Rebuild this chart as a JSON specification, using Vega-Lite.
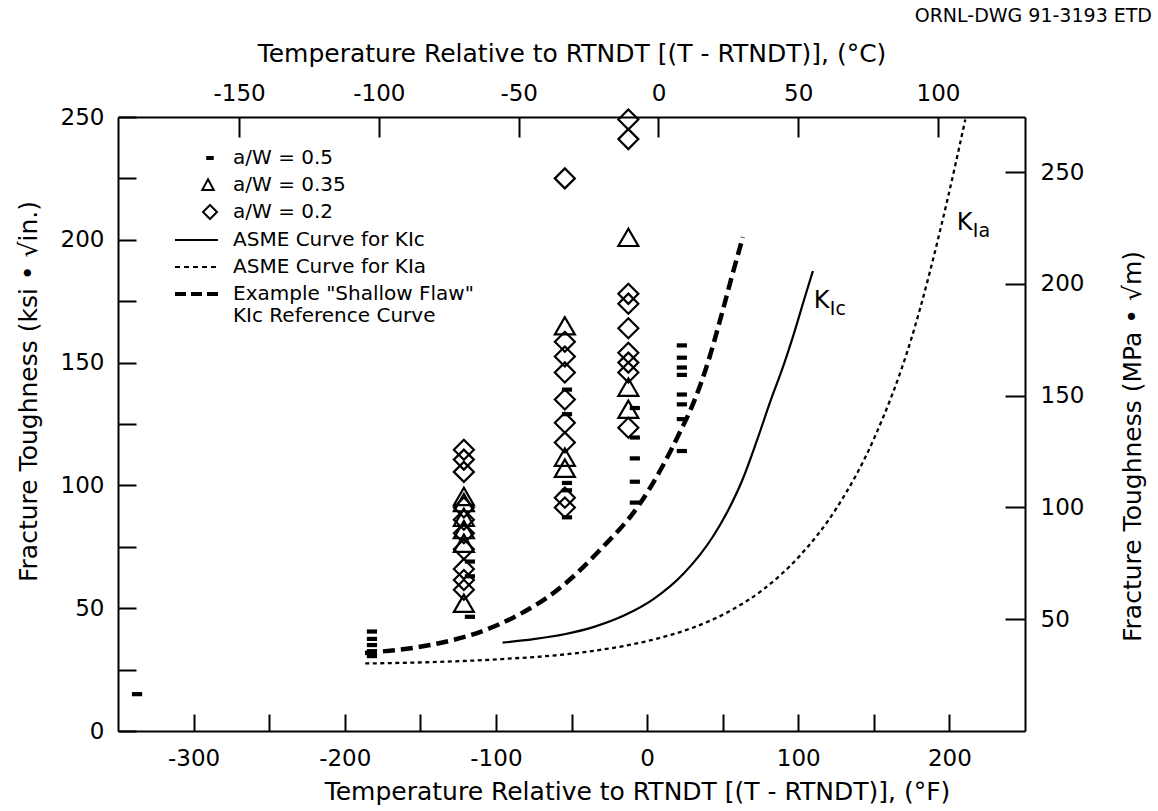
{
  "$schema": "https://vega.github.io/schema/vega-lite/v6.json",
  "width": 907,
  "height": 614,
  "autosize": {"type": "none"},
  "padding": {"left": 118, "top": 117, "right": 133, "bottom": 80},
  "background": "white",
  "config": {
    "view": {"stroke": null},
    "font": "DejaVu Sans",
    "axis": {
      "grid": false, "domainColor": "black", "domainWidth": 2, "tickColor": "black", "tickWidth": 2,
      "labelColor": "black", "titleColor": "black", "labelFont": "DejaVu Sans", "titleFont": "DejaVu Sans",
      "labelFontSize": 23, "titleFontSize": 25, "titleFontWeight": "normal", "labelOverlap": false, "labelFlush": false
    }
  },
  "title": {"text": "ORNL-DWG 91-3193 ETD", "anchor": "end", "frame": "group", "fontSize": 19, "font": "DejaVu Sans", "fontWeight": "normal", "color": "black", "dx": 127, "offset": 15},
  "datasets": {
    "curves": [
      {"curve": "KIc", "t": -95.6, "k": 36.0}, {"curve": "KIc", "t": -75.1, "k": 37.4}, {"curve": "KIc", "t": -54.7, "k": 39.4},
      {"curve": "KIc", "t": -34.6, "k": 42.5}, {"curve": "KIc", "t": -15.0, "k": 47.1}, {"curve": "KIc", "t": 4.7, "k": 53.9},
      {"curve": "KIc", "t": 24.2, "k": 64.1}, {"curve": "KIc", "t": 43.7, "k": 79.3}, {"curve": "KIc", "t": 53.4, "k": 89.6},
      {"curve": "KIc", "t": 62.9, "k": 102.0}, {"curve": "KIc", "t": 72.5, "k": 118.0}, {"curve": "KIc", "t": 82.0, "k": 135.0},
      {"curve": "KIc", "t": 89.2, "k": 147.0}, {"curve": "KIc", "t": 96.4, "k": 160.4}, {"curve": "KIc", "t": 104.4, "k": 176.7},
      {"curve": "KIc", "t": 109.7, "k": 187.3},
      {"curve": "KIa", "t": -186.4, "k": 27.5}, {"curve": "KIa", "t": -145.6, "k": 28.0}, {"curve": "KIa", "t": -95.6, "k": 29.3},
      {"curve": "KIa", "t": -44.4, "k": 31.9}, {"curve": "KIa", "t": 4.7, "k": 37.3}, {"curve": "KIa", "t": 29.1, "k": 41.8},
      {"curve": "KIa", "t": 53.4, "k": 48.4}, {"curve": "KIa", "t": 77.2, "k": 57.8}, {"curve": "KIa", "t": 101.1, "k": 71.4},
      {"curve": "KIa", "t": 125.5, "k": 90.9}, {"curve": "KIa", "t": 150.0, "k": 118.9}, {"curve": "KIa", "t": 174.5, "k": 159.1},
      {"curve": "KIa", "t": 198.9, "k": 216.9}, {"curve": "KIa", "t": 210.5, "k": 249.0},
      {"curve": "Shallow", "t": -186.6, "k": 31.8}, {"curve": "Shallow", "t": -143.7, "k": 35.0}, {"curve": "Shallow", "t": -110.6, "k": 40.3},
      {"curve": "Shallow", "t": -84.1, "k": 47.6}, {"curve": "Shallow", "t": -57.7, "k": 58.2}, {"curve": "Shallow", "t": -31.2, "k": 73.7},
      {"curve": "Shallow", "t": -4.8, "k": 92.5}, {"curve": "Shallow", "t": 10.4, "k": 108.0}, {"curve": "Shallow", "t": 20.4, "k": 120.0},
      {"curve": "Shallow", "t": 31.6, "k": 135.0}, {"curve": "Shallow", "t": 40.2, "k": 150.0}, {"curve": "Shallow", "t": 49.5, "k": 170.0},
      {"curve": "Shallow", "t": 56.5, "k": 186.0}, {"curve": "Shallow", "t": 63.4, "k": 201.1}
    ],
    "points": [
      {"t": -337.4, "k": 15, "aw": "0.5"},
      {"t": -182, "k": 40.5, "aw": "0.5"}, {"t": -182, "k": 37.5, "aw": "0.5"}, {"t": -182, "k": 35, "aw": "0.5"},
      {"t": -182, "k": 32.5, "aw": "0.5"}, {"t": -182, "k": 30.5, "aw": "0.5"},
      {"t": -121.2, "k": 114.5, "aw": "0.2"}, {"t": -121.2, "k": 110.5, "aw": "0.2"}, {"t": -121.2, "k": 105.5, "aw": "0.2"},
      {"t": -121.2, "k": 91, "aw": "0.2"}, {"t": -121.2, "k": 86, "aw": "0.2"}, {"t": -121.2, "k": 80.5, "aw": "0.2"},
      {"t": -121.2, "k": 74, "aw": "0.2"}, {"t": -121.2, "k": 66, "aw": "0.2"}, {"t": -121.2, "k": 61.5, "aw": "0.2"},
      {"t": -121.2, "k": 57.5, "aw": "0.2"},
      {"t": -121.2, "k": 95.5, "aw": "0.35"}, {"t": -121.2, "k": 93, "aw": "0.35"}, {"t": -121.2, "k": 87, "aw": "0.35"},
      {"t": -121.2, "k": 82, "aw": "0.35"}, {"t": -121.2, "k": 76.5, "aw": "0.35"}, {"t": -121.2, "k": 52, "aw": "0.35"},
      {"t": -117.2, "k": 69, "aw": "0.5"}, {"t": -117.2, "k": 63, "aw": "0.5"}, {"t": -117.2, "k": 46.5, "aw": "0.5"},
      {"t": -54.4, "k": 225, "aw": "0.2"}, {"t": -54.4, "k": 158.5, "aw": "0.2"}, {"t": -54.4, "k": 152.5, "aw": "0.2"},
      {"t": -54.4, "k": 146, "aw": "0.2"}, {"t": -54.4, "k": 135, "aw": "0.2"}, {"t": -54.4, "k": 125.5, "aw": "0.2"},
      {"t": -54.4, "k": 117.5, "aw": "0.2"}, {"t": -54.4, "k": 95, "aw": "0.2"}, {"t": -54.4, "k": 91, "aw": "0.2"},
      {"t": -54.4, "k": 165, "aw": "0.35"}, {"t": -54.4, "k": 111.5, "aw": "0.35"}, {"t": -54.4, "k": 107, "aw": "0.35"},
      {"t": -53, "k": 139, "aw": "0.5"}, {"t": -53, "k": 129, "aw": "0.5"}, {"t": -53, "k": 101, "aw": "0.5"},
      {"t": -53, "k": 98, "aw": "0.5"}, {"t": -53, "k": 87, "aw": "0.5"},
      {"t": -12.4, "k": 249, "aw": "0.2"}, {"t": -12.4, "k": 241, "aw": "0.2"}, {"t": -12.4, "k": 178, "aw": "0.2"},
      {"t": -12.4, "k": 174, "aw": "0.2"}, {"t": -12.4, "k": 164, "aw": "0.2"}, {"t": -12.4, "k": 154, "aw": "0.2"},
      {"t": -12.4, "k": 150, "aw": "0.2"}, {"t": -12.4, "k": 146, "aw": "0.2"}, {"t": -12.4, "k": 123.5, "aw": "0.2"},
      {"t": -12.4, "k": 201, "aw": "0.35"}, {"t": -12.4, "k": 140, "aw": "0.35"}, {"t": -12.4, "k": 131, "aw": "0.35"},
      {"t": -8.1, "k": 131.5, "aw": "0.5"}, {"t": -8.1, "k": 119.5, "aw": "0.5"}, {"t": -8.1, "k": 111, "aw": "0.5"},
      {"t": -8.1, "k": 101.5, "aw": "0.5"}, {"t": -8.1, "k": 93, "aw": "0.5"},
      {"t": 23.0, "k": 157, "aw": "0.5"}, {"t": 23.0, "k": 152, "aw": "0.5"}, {"t": 23.0, "k": 148, "aw": "0.5"},
      {"t": 23.0, "k": 145, "aw": "0.5"}, {"t": 23.0, "k": 137, "aw": "0.5"}, {"t": 23.0, "k": 133, "aw": "0.5"},
      {"t": 23.0, "k": 127, "aw": "0.5"}, {"t": 23.0, "k": 114, "aw": "0.5"}
    ],
    "legend": [
      {"entry": "a/W = 0.5"}, {"entry": "a/W = 0.35"}, {"entry": "a/W = 0.2"},
      {"entry": "ASME Curve for KIc"}, {"entry": "ASME Curve for KIa"},
      {"entry": "Example \"Shallow Flaw\"|KIc Reference Curve"}
    ],
    "notes": [
      {"t": 110.3, "k": 172.2, "sub": "Ic"},
      {"t": 204.9, "k": 204.0, "sub": "Ia"}
    ]
  },
  "layer": [
    {
      "data": {"name": "curves"},
      "transform": [{"filter": "datum.curve == 'KIc'"}],
      "mark": {"type": "line", "color": "black", "strokeWidth": 2.2, "interpolate": "monotone"},
      "encoding": {
        "x": {"field": "t", "type": "quantitative", "scale": {"domain": [-350, 250], "nice": false, "zero": false},
          "axis": {"orient": "bottom", "title": "Temperature Relative to RTNDT [(T - RTNDT)], (°F)",
            "values": [-300, -250, -200, -150, -100, -50, 0, 50, 100, 150, 200],
            "labelExpr": "datum.value % 100 == 0 ? '' + datum.value : ''",
            "tickSize": -17, "labelPadding": 33, "titlePadding": 9, "titleX": 519}},
        "y": {"field": "k", "type": "quantitative", "scale": {"domain": [0, 250], "nice": false, "zero": false},
          "axis": {"orient": "left", "title": "Fracture Toughness (ksi • √in.)",
            "values": [0, 25, 50, 75, 100, 125, 150, 175, 200, 225, 250],
            "labelExpr": "datum.value % 50 == 0 ? '' + datum.value : ''",
            "tickSize": -18, "labelPadding": 32, "titlePadding": 19, "titleY": 274}}
      }
    },
    {
      "data": {"name": "curves"},
      "transform": [{"filter": "datum.curve == 'KIa'"}],
      "mark": {"type": "line", "color": "black", "strokeWidth": 2.3, "strokeDash": [4, 3.5], "interpolate": "monotone"},
      "encoding": {
        "x": {"field": "t", "type": "quantitative", "scale": {"domain": [-350, 250], "nice": false, "zero": false}, "axis": null},
        "y": {"field": "k", "type": "quantitative", "scale": {"domain": [0, 250], "nice": false, "zero": false}, "axis": null}
      }
    },
    {
      "data": {"name": "curves"},
      "transform": [{"filter": "datum.curve == 'Shallow'"}],
      "mark": {"type": "line", "color": "black", "strokeWidth": 4.5, "strokeDash": [12, 6], "interpolate": "monotone"},
      "encoding": {
        "x": {"field": "t", "type": "quantitative", "scale": {"domain": [-350, 250], "nice": false, "zero": false}, "axis": null},
        "y": {"field": "k", "type": "quantitative", "scale": {"domain": [0, 250], "nice": false, "zero": false}, "axis": null}
      }
    },
    {
      "data": {"name": "points"},
      "mark": {"type": "point", "filled": false, "color": "black", "strokeWidth": 2.2, "opacity": 1, "size": 400},
      "encoding": {
        "x": {"field": "t", "type": "quantitative", "scale": {"domain": [-350, 250], "nice": false, "zero": false}, "axis": null},
        "y": {"field": "k", "type": "quantitative", "scale": {"domain": [0, 250], "nice": false, "zero": false}, "axis": null},
        "shape": {"field": "aw", "type": "nominal",
          "scale": {"domain": ["0.5", "0.35", "0.2"], "range": ["M-0.4,-0.1H0.4V0.1H-0.4Z", "triangle-up", "diamond"]},
          "legend": null}
      }
    },
    {
      "data": {"name": "legend"},
      "mark": {"type": "point", "filled": false, "color": "black", "strokeWidth": 2, "opacity": 0},
      "encoding": {
        "shape": {"field": "entry", "type": "nominal",
          "scale": {
            "domain": ["a/W = 0.5", "a/W = 0.35", "a/W = 0.2", "ASME Curve for KIc", "ASME Curve for KIa", "Example \"Shallow Flaw\"|KIc Reference Curve"],
            "range": [
              "M-0.5,-0.08H-0.06V0.08H-0.5Z",
              "M-0.44,-0.46L0.02,0.4L-0.9,0.4Z",
              "M-0.28,-0.56L0.28,0L-0.28,0.56L-0.84,0Z",
              "M-3.08,0H0.36",
              "M-3.08,0H-2.68M-2.36,0H-1.96M-1.64,0H-1.24M-0.92,0H-0.52M-0.2,0H0.2",
              "M-3,-0.08H-2.28V0.08H-3ZM-1.72,-0.08H-1V0.08H-1.72ZM-0.44,-0.08H0.28V0.08H-0.44Z"
            ]},
          "legend": {
            "title": null, "orient": "none", "legendX": 82, "legendY": 27.5, "direction": "vertical",
            "padding": 0, "rowPadding": 3, "symbolSize": 625, "symbolStrokeWidth": 2, "symbolStrokeColor": "black",
            "symbolFillColor": "transparent", "symbolOpacity": 1, "labelFont": "DejaVu Sans", "labelFontSize": 20,
            "labelColor": "black", "labelLimit": 0, "labelOffset": 6, "labelBaseline": "middle",
            "labelExpr": "split(datum.label, '|')"
          }}
      }
    },
    {
      "data": {"name": "notes"},
      "mark": {"type": "text", "text": "K", "align": "left", "baseline": "alphabetic", "fontSize": 24, "font": "DejaVu Sans", "color": "black"},
      "encoding": {
        "x": {"field": "t", "type": "quantitative", "scale": {"domain": [-350, 250], "nice": false, "zero": false}, "axis": null},
        "y": {"field": "k", "type": "quantitative", "scale": {"domain": [0, 250], "nice": false, "zero": false}, "axis": null}
      }
    },
    {
      "data": {"name": "notes"},
      "mark": {"type": "text", "align": "left", "baseline": "alphabetic", "fontSize": 19, "font": "DejaVu Sans", "color": "black", "dx": 16, "dy": 7},
      "encoding": {
        "x": {"field": "t", "type": "quantitative", "scale": {"domain": [-350, 250], "nice": false, "zero": false}, "axis": null},
        "y": {"field": "k", "type": "quantitative", "scale": {"domain": [0, 250], "nice": false, "zero": false}, "axis": null},
        "text": {"field": "sub", "type": "nominal"}
      }
    },
    {
      "data": {"values": [{}]},
      "mark": {"type": "point", "opacity": 0},
      "encoding": {
        "x": {"datum": 0, "type": "quantitative", "scale": {"domain": [-193.3, 131.1], "nice": false, "zero": false},
          "axis": {"orient": "top", "title": "Temperature Relative to RTNDT [(T - RTNDT)], (°C)",
            "values": [-150, -100, -50, 0, 50, 100], "labelExpr": "'' + datum.value",
            "tickSize": -20, "labelPadding": 32, "titlePadding": 16}},
        "y": {"datum": 0, "type": "quantitative", "scale": {"domain": [0, 274.7], "nice": false, "zero": false},
          "axis": {"orient": "right", "title": "Fracture Toughness (MPa • √m)", "titleAngle": 270,
            "values": [50, 100, 150, 200, 250], "labelExpr": "'' + datum.value",
            "tickSize": -20, "labelPadding": 35, "titlePadding": 62, "titleY": 329}}
      }
    }
  ],
  "resolve": {"scale": {"x": "independent", "y": "independent", "shape": "independent"}}
}
